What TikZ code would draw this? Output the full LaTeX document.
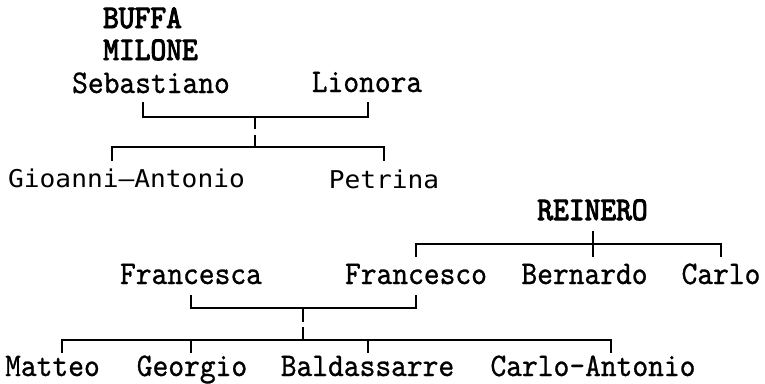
\documentclass[tikz,border=0pt]{standalone}
\usepackage{fontspec}
\newfontfamily\serifmono[Extension=.otf,FakeStretch=0.91,FakeBold=0.8]{lmmono10-regular}
\newfontfamily\boldmono[Extension=.otf,FakeStretch=0.91,FakeBold=3]{lmmono10-regular}
\newfontfamily\sansmono[FakeStretch=1.07]{DejaVu Sans Mono}
\tikzset{
  pname/.style={anchor=base,inner sep=0pt,font=\serifmono\fontsize{33}{33}\selectfont},
  sname/.style={anchor=base,inner sep=0pt,font=\sansmono\fontsize{24.5}{24.5}\selectfont},
  hname/.style={anchor=base,inner sep=0pt,font=\boldmono\fontsize{33}{33}\selectfont},
  link/.style={line width=1.6pt,line cap=butt,line join=miter}}
\begin{document}
\begin{tikzpicture}[x=1pt,y=-1pt]
\useasboundingbox (0,0) rectangle (765,383);
% texts
\node[hname] (buffa) at (142.5,28) {BUFFA};
\node[hname] (milone) at (150.5,60) {MILONE};
\node[pname] (seb) at (151,93) {Sebastiano};
\node[pname] (lio) at (367,92) {Lionora};
\node[sname] (gio) at (126.5,187) {Gioanni–Antonio};
\node[sname] (pet) at (384,188) {Petrina};
\node[hname] (rei) at (592.5,220) {REINERO};
\node[pname] (fca) at (191,284) {Francesca};
\node[pname] (fco) at (416,284) {Francesco};
\node[pname] (ber) at (584.5,284) {Bernardo};
\node[pname] (car) at (721,284) {Carlo};
\node[pname] (mat) at (52.5,376) {Matteo};
\node[pname] (geo) at (192,376) {Georgio};
\node[pname] (bal) at (367.5,376) {Baldassarre};
\node[pname] (cara) at (593,376) {Carlo–Antonio};
% junction coordinates, top family
\coordinate (sebT) at (143,102);
\coordinate (sebB) at (143,117);
\coordinate (lioT) at (368,102);
\coordinate (lioB) at (368,117);
\coordinate (m1a) at (255,117);
\coordinate (m1b) at (255,129);
\coordinate (m1c) at (255,135);
\coordinate (m1d) at (255,147);
\coordinate (gioT) at (112,147);
\coordinate (gioB) at (112,161);
\coordinate (petT) at (384,147);
\coordinate (petB) at (384,161);
\draw[link] (sebT) -- (sebB) -- (lioB) -- (lioT);
\draw[link] (m1a) -- (m1b);
\draw[link] (m1c) -- (m1d);
\draw[link] (gioB) -- (gioT) -- (petT) -- (petB);
% Reinero
\coordinate (reiT) at (593,231);
\coordinate (reiB) at (593,257);
\coordinate (fcoR) at (416,244);
\coordinate (fcoRB) at (416,257);
\coordinate (carR) at (721,244);
\coordinate (carRB) at (721,257);
\draw[link] (reiT) -- (reiB);
\draw[link] (fcoRB) -- (fcoR) -- (carR) -- (carRB);
% Francesca - Francesco
\coordinate (fcaT) at (191,295);
\coordinate (fcaB) at (191,308);
\coordinate (fcoT) at (416,295);
\coordinate (fcoB) at (416,308);
\coordinate (m2a) at (303,308);
\coordinate (m2b) at (303,322);
\coordinate (m2c) at (303,327);
\coordinate (m2d) at (303,340);
\draw[link] (fcaT) -- (fcaB) -- (fcoB) -- (fcoT);
\draw[link] (m2a) -- (m2b);
\draw[link] (m2c) -- (m2d);
\coordinate (matT) at (62,340);
\coordinate (matB) at (62,353);
\coordinate (geoT) at (191,340);
\coordinate (geoB) at (191,353);
\coordinate (balT) at (368,340);
\coordinate (balB) at (368,353);
\coordinate (caraT) at (611,340);
\coordinate (caraB) at (611,353);
\draw[link] (matB) -- (matT) -- (caraT) -- (caraB);
\draw[link] (geoT) -- (geoB);
\draw[link] (balT) -- (balB);
\end{tikzpicture}
\end{document}
